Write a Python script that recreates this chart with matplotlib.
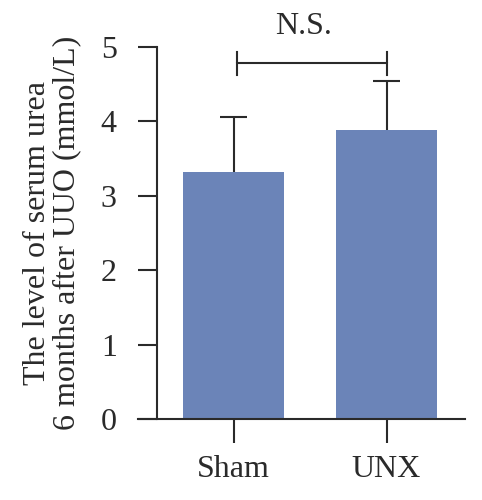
import matplotlib
matplotlib.use("Agg")
import matplotlib.pyplot as plt

groups = ["Sham", "UNX"]
means = [3.32, 3.88]
errs_up = [0.74, 0.66]
yticks = [0, 1, 2, 3, 4, 5]
sig_label = "N.S."
sig_y = 4.78

plt.rcParams["font.family"] = ["Liberation Serif", "DejaVu Serif"]
ink = "#2a2a2a"
bar_color = "#6b84b8"
fs = 23

fig = plt.figure(figsize=(4.82, 5.0), dpi=100)
ax = fig.add_axes([157 / 482, 81 / 500, (465 - 157) / 482, (419 - 47) / 500])

x = list(range(len(groups)))
ax.bar(x, means, width=0.66, color=bar_color, zorder=2)
# upper-only error bars, stem hidden behind the bar
tops = [m + e for m, e in zip(means, errs_up)]
ax.vlines(x, means, tops, color=ink, lw=1.5, zorder=1)
ax.hlines(tops, [xi - 0.09 for xi in x], [xi + 0.09 for xi in x],
          color=ink, lw=1.5, zorder=1)

ax.set_xlim(-0.5, 1.513)
ax.set_ylim(0, 5)
ax.set_yticks(yticks)
ax.set_xticks(x)
ax.set_xticklabels(groups)

for s in ("top", "right"):
    ax.spines[s].set_visible(False)
for s in ("left", "bottom"):
    ax.spines[s].set_linewidth(1.5)
    ax.spines[s].set_color(ink)
ax.spines["bottom"].set_bounds(-0.5 - 19 / 153, 1.513)

ax.tick_params(axis="y", length=14, width=1.5, color=ink, labelsize=fs,
               labelcolor=ink, pad=15)
ax.tick_params(axis="x", length=17, width=1.5, color=ink, labelsize=fs,
               labelcolor=ink, pad=9)

ax.set_ylabel("The level of serum urea\n6 months after UUO (mmol/L)",
              fontsize=fs, linespacing=1.0, labelpad=14, color=ink)

# significance bracket
ax.plot([0.02, 0.02, 1.0, 1.0], [sig_y + 0.15, sig_y, sig_y, sig_y + 0.15],
        color=ink, lw=1.5, clip_on=False)
ax.plot([0.02, 0.02], [sig_y - 0.16, sig_y], color=ink, lw=1.5, clip_on=False)
ax.plot([1.0, 1.0], [sig_y - 0.16, sig_y], color=ink, lw=1.5, clip_on=False)
ax.text(0.46, sig_y + 0.3, sig_label, ha="center", va="bottom", fontsize=fs,
        color=ink, clip_on=False)

fig.savefig("out.png", dpi=100)
